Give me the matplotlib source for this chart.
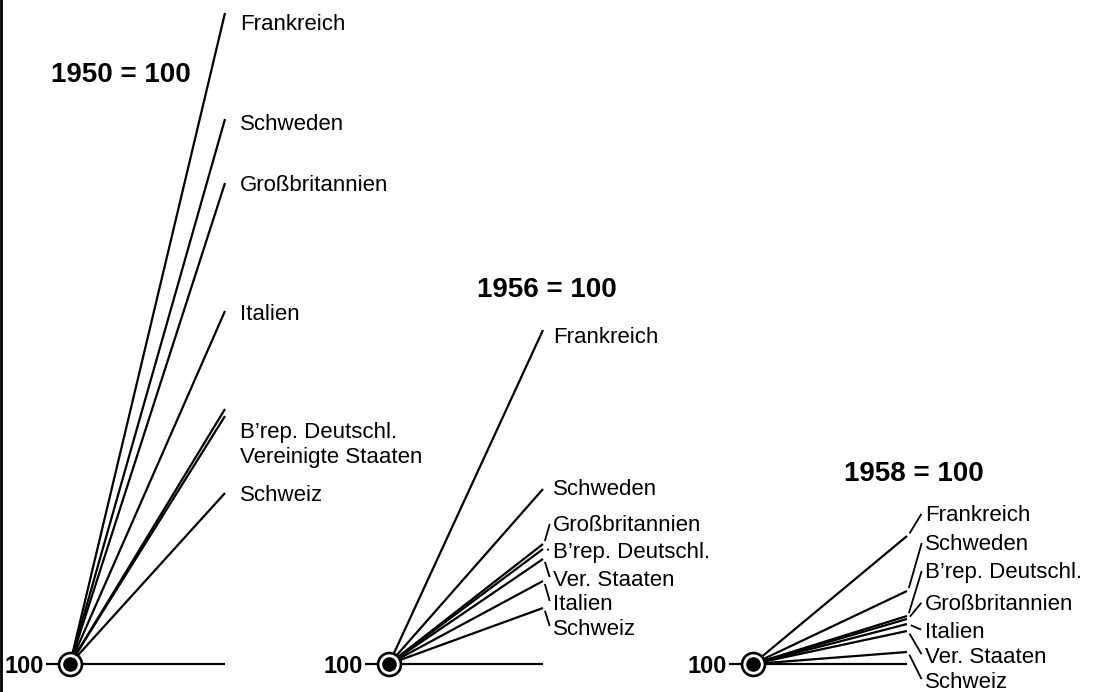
import matplotlib
matplotlib.use("Agg")
import matplotlib.pyplot as plt

# ---------------- data (index values) ----------------
base_value = 100
titles = ["1950 = 100", "1956 = 100", "1958 = 100"]

countries_1950 = ["Frankreich", "Schweden", "Großbritannien", "Italien",
                  "B’rep. Deutschl.", "Vereinigte Staaten", "Schweiz"]
values_1950 = [165.1, 154.5, 148.1, 135.3, 125.5, 124.8, 117.1]

countries_1956 = ["Frankreich", "Schweden", "Großbritannien", "B’rep. Deutschl.",
                  "Ver. Staaten", "Italien", "Schweiz"]
values_1956 = [133.4, 117.5, 112.0, 111.5, 110.5, 108.3, 105.6]

countries_1958 = ["Frankreich", "Schweden", "B’rep. Deutschl.", "Großbritannien",
                  "Italien", "Ver. Staaten", "Schweiz"]
values_1958 = [112.8, 107.3, 104.8, 104.5, 104.0, 103.3, 101.2]

# ---------------- layout (pixels) ----------------
W, H = 1096, 692
Y0 = 664          # pixel row of index 100
SY = 10.0         # pixels per index point

fans = [
    dict(names=countries_1950, vals=values_1950, ox=70, ex=225, lx=240,
         lpy=[22, 122, 183, 312, 430, 455, 493], leader=[False] * 7,
         title=titles[0], tx=121, ty=72, hx=44),
    dict(names=countries_1956, vals=values_1956, ox=389, ex=543, lx=553,
         lpy=[335, 487, 523, 550, 578, 602, 627],
         leader=[False, False, True, True, True, True, True],
         title=titles[1], tx=547, ty=287, hx=363),
    dict(names=countries_1958, vals=values_1958, ox=753, ex=907, lx=925,
         lpy=[513, 542, 570, 602, 630, 655, 680], leader=[True] * 7,
         title=titles[2], tx=914, ty=471, hx=727),
]

def py2v(py):
    return base_value + (Y0 - py) / SY

LABEL_FONT = ["Liberation Sans", "DejaVu Sans"]

fig = plt.figure(figsize=(W / 100, H / 100), dpi=100)
ax = fig.add_axes([0, 0, 1, 1])
ax.set_xlim(0, W)
ax.set_ylim(py2v(H), py2v(0))
ax.axis("off")

LW = 1.6
for f in fans:
    ox, ex = f["ox"], f["ex"]
    # baseline
    ax.plot([ox, ex], [base_value, base_value], color="black", lw=LW,
            solid_capstyle="butt", zorder=2)
    # fan lines
    for v in f["vals"]:
        ax.plot([ox, ex], [base_value, v], color="black", lw=LW,
                solid_capstyle="butt", zorder=2)
    # labels and leaders
    for name, v, lpy, lead in zip(f["names"], f["vals"], f["lpy"], f["leader"]):
        ax.text(f["lx"], py2v(lpy), name, ha="left", va="center_baseline",
                fontsize=16, family=LABEL_FONT, color="black", zorder=4)
        if lead:
            x1, y1 = ex + 1.0, Y0 - (v - base_value) * SY
            x2, y2 = f["lx"] - 3.0, lpy
            dx, dy = x2 - x1, y2 - y1
            d = (dx * dx + dy * dy) ** 0.5
            g = 3.0
            sx, sy_ = x1 + dx / d * g, y1 + dy / d * g
            tx2, ty2 = x2 - dx / d * 1.0, y2 - dy / d * 1.0
            ax.plot([sx, tx2], [py2v(sy_), py2v(ty2)], color="black", lw=1.3,
                    solid_capstyle="butt", zorder=2)
    # origin marker
    ax.plot([ox], [base_value], "o", ms=16.5, mfc="white", mec="black",
            mew=1.9, zorder=5)
    ax.plot([ox], [base_value], "o", ms=10.5, mfc="black", mec="black",
            mew=0, zorder=6)
    # "100-" label
    ax.text(f["hx"], base_value, "100", ha="right", va="center_baseline",
            fontsize=17, fontweight="bold", family=LABEL_FONT, zorder=4)
    ax.plot([f["hx"] + 2, ox - 10], [base_value, base_value], color="black",
            lw=1.6, solid_capstyle="butt", zorder=3)
    # title
    ax.text(f["tx"], py2v(f["ty"]), f["title"], ha="center",
            va="center_baseline", fontsize=20, fontweight="bold",
            family=LABEL_FONT, zorder=4)

# left border of the scanned page
ax.plot([1.2, 1.2], [py2v(0), py2v(H)], color="black", lw=2.0, zorder=1)

fig.savefig("out.png", dpi=100)
